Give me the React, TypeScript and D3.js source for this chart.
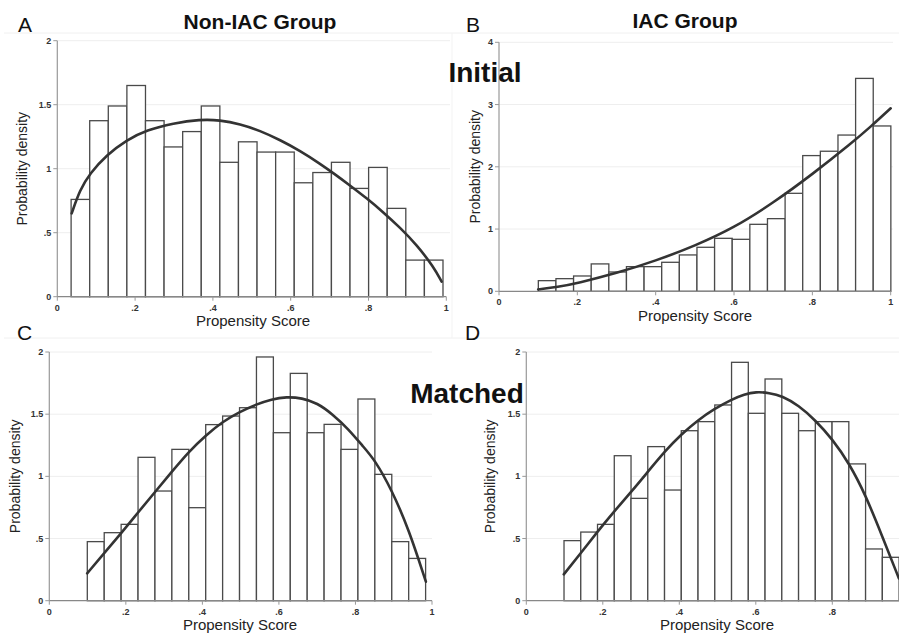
import React from 'react';
import * as d3 from 'd3';

// histogram bars (probability density), 20 bins each
const nonIacInitial = [0.76, 1.375, 1.49, 1.65, 1.375, 1.17, 1.29, 1.49, 1.05, 1.21, 1.13, 1.13, 0.89, 0.97, 1.05, 0.846, 1.01, 0.69, 0.286, 0.286];
const iacInitial = [0.171, 0.203, 0.246, 0.44, 0.31, 0.396, 0.396, 0.466, 0.584, 0.707, 0.851, 0.835, 1.076, 1.167, 1.574, 2.18, 2.25, 2.51, 3.42, 2.656];
const nonIacMatched = [0.475, 0.547, 0.614, 1.153, 0.882, 1.217, 0.748, 1.416, 1.485, 1.552, 1.96, 1.351, 1.828, 1.351, 1.418, 1.217, 1.622, 1.016, 0.475, 0.34];
const iacMatched = [0.483, 0.552, 0.614, 1.166, 0.823, 1.239, 0.89, 1.367, 1.44, 1.574, 1.917, 1.507, 1.783, 1.507, 1.367, 1.44, 1.44, 1.1, 0.416, 0.349];

// bin start and bin width for each panel
const binsA = { start: 0.0355, width: 0.0478 };
const binsB = { start: 0.1004, width: 0.045 };
const binsC = { start: 0.0993, width: 0.0442 };
const binsD = { start: 0.0986, width: 0.0438 };

// fitted density curves
const curveA: [number, number][] = [[0.037, 0.651], [0.058, 0.834], [0.084, 0.964], [0.127, 1.107], [0.178, 1.224], [0.23, 1.302], [0.298, 1.355], [0.367, 1.385], [0.418, 1.38], [0.47, 1.349], [0.521, 1.297], [0.573, 1.224], [0.624, 1.14], [0.675, 1.04], [0.71, 0.965], [0.752, 0.87], [0.795, 0.77], [0.838, 0.66], [0.881, 0.54], [0.924, 0.405], [0.967, 0.234], [0.988, 0.117]];
const curveB: [number, number][] = [[0.1, 0.03], [0.15, 0.07], [0.2, 0.13], [0.3, 0.29], [0.4, 0.49], [0.5, 0.73], [0.6, 1.02], [0.7, 1.42], [0.8, 1.88], [0.9, 2.38], [0.95, 2.65], [1.0, 2.94]];
const curveC: [number, number][] = [[0.099, 0.22], [0.143, 0.38], [0.187, 0.54], [0.232, 0.71], [0.277, 0.877], [0.321, 1.04], [0.365, 1.2], [0.409, 1.33], [0.453, 1.44], [0.498, 1.52], [0.542, 1.58], [0.58, 1.62], [0.62, 1.64], [0.66, 1.63], [0.7, 1.59], [0.74, 1.5], [0.78, 1.385], [0.82, 1.24], [0.851, 1.13], [0.895, 0.89], [0.94, 0.568], [0.984, 0.153]];
const curveD: [number, number][] = [[0.098, 0.212], [0.142, 0.38], [0.186, 0.555], [0.23, 0.72], [0.275, 0.877], [0.32, 1.045], [0.363, 1.204], [0.406, 1.34], [0.449, 1.453], [0.493, 1.545], [0.537, 1.619], [0.57, 1.66], [0.6, 1.68], [0.635, 1.672], [0.669, 1.646], [0.712, 1.57], [0.755, 1.453], [0.8, 1.3], [0.844, 1.105], [0.887, 0.85], [0.931, 0.515], [0.974, 0.18]];

const xTicks = [0, 0.2, 0.4, 0.6, 0.8, 1];
const yTicksSmall = [0, 0.5, 1, 1.5, 2];
const yTicksBig = [0, 1, 2, 3, 4];

const FONT = '"Liberation Sans", Arial, Helvetica, sans-serif';
const WIDTH = 899;
const HEIGHT = 634;
const fmt = (d: number) => String(d).replace(/^0\./, '.');

type PanelProps = {
  x0: number; x1: number; y0: number; y1: number; // pixel box of the data area
  gridRight: number;
  yMax: number; yTicks: number[];
  values: number[]; bins: { start: number; width: number };
  curve: [number, number][];
  yLabelX: number; xLabelX: number; xLabelY: number;
};

const Panel = ({ x0, x1, y0, y1, gridRight, yMax, yTicks, values, bins, curve, yLabelX, xLabelX, xLabelY }: PanelProps) => {
  const x = d3.scaleLinear().domain([0, 1]).range([x0, x1]);
  const y = d3.scaleLinear().domain([0, yMax]).range([y0, y1]);
  const line = d3.line<[number, number]>()
    .x(d => x(d[0]))
    .y(d => y(d[1]))
    .curve(d3.curveBasis);
  const midY = (y0 + y1) / 2;
  // the right edge of panel D runs off the page, drop ticks that would be cut
  const visibleTicks = xTicks.filter(t => x(t) < WIDTH - 4);

  return (
    <g>
      {/* faint grid */}
      {yTicks.slice(1).map(t => (
        <line key={'g' + t} x1={x0} x2={gridRight} y1={y(t)} y2={y(t)} stroke="#eeeeee" strokeWidth={1} />
      ))}
      {/* bars */}
      {values.map((v, i) => {
        const a = bins.start + i * bins.width;
        return (
          <rect key={i} x={x(a)} y={y(v)} width={x(a + bins.width) - x(a)} height={y(0) - y(v)}
            fill="#ffffff" stroke="#4a4a4a" strokeWidth={1.3} />
        );
      })}
      {/* y axis */}
      <line x1={x0} x2={x0} y1={y(0)} y2={y(yMax)} stroke="#999" strokeWidth={1.2} />
      {yTicks.map(t => (
        <g key={'y' + t}>
          <line x1={x0 - 4} x2={x0} y1={y(t)} y2={y(t)} stroke="#999" strokeWidth={1} />
          <text x={x0 - 6} y={y(t) + 3} textAnchor="end" fontSize={9} fontWeight="bold" fill="#333" fontFamily={FONT}>{fmt(t)}</text>
        </g>
      ))}
      {/* x axis */}
      <line x1={x(0)} x2={x(1)} y1={y0} y2={y0} stroke="#888" strokeWidth={1.2} />
      {visibleTicks.map(t => (
        <g key={'x' + t}>
          <line x1={x(t)} x2={x(t)} y1={y0} y2={y0 + 4} stroke="#999" strokeWidth={1} />
          <text x={x(t)} y={y0 + 14} textAnchor="middle" fontSize={9} fontWeight="bold" fill="#333" fontFamily={FONT}>{fmt(t)}</text>
        </g>
      ))}
      {/* fitted curve */}
      <path d={line(curve) || ''} fill="none" stroke="#333" strokeWidth={2.6} strokeLinecap="round" />
      {/* axis titles */}
      <text transform={`translate(${yLabelX},${midY}) rotate(-90)`} textAnchor="middle" fontSize={14} fill="#222" fontFamily={FONT}>Probability density</text>
      <text x={xLabelX} y={xLabelY} textAnchor="middle" fontSize={15} fill="#222" fontFamily={FONT}>Propensity Score</text>
    </g>
  );
};

export default function App() {
  return (
    <svg width={WIDTH} height={HEIGHT} style={{ position: 'absolute', left: 0, top: 0, background: '#fff' }}>
      <rect width={WIDTH} height={HEIGHT} fill="#fff" />
      {/* faint panel borders */}
      <line x1={4} x2={WIDTH} y1={33} y2={33} stroke="#f0f0f0" />
      <line x1={4} x2={WIDTH} y1={338} y2={338} stroke="#f0f0f0" />
      <line x1={452} x2={452} y1={33} y2={338} stroke="#f3f3f3" />

      <Panel x0={57.3} x1={446.3} y0={296.7} y1={40.7} gridRight={450} yMax={2} yTicks={yTicksSmall}
        values={nonIacInitial} bins={binsA} curve={curveA} yLabelX={27} xLabelX={253} xLabelY={326} />
      <Panel x0={499} x1={890.7} y0={291.3} y1={42.3} gridRight={893} yMax={4} yTicks={yTicksBig}
        values={iacInitial} bins={binsB} curve={curveB} yLabelX={480} xLabelX={695} xLabelY={321} />
      <Panel x0={49.3} x1={432} y0={600.7} y1={352} gridRight={432} yMax={2} yTicks={yTicksSmall}
        values={nonIacMatched} bins={binsC} curve={curveC} yLabelX={20} xLabelX={240} xLabelY={630} />
      <Panel x0={526.3} x1={908.8} y0={600.7} y1={352} gridRight={WIDTH} yMax={2} yTicks={yTicksSmall}
        values={iacMatched} bins={binsD} curve={curveD} yLabelX={495} xLabelX={717} xLabelY={630} />

      {/* panel letters and titles */}
      <text x={18} y={32} fontSize={21} fontFamily={FONT} fill="#111">A</text>
      <text x={466} y={32} fontSize={21} fontFamily={FONT} fill="#111">B</text>
      <text x={17} y={340} fontSize={21} fontFamily={FONT} fill="#111">C</text>
      <text x={465} y={340} fontSize={21} fontFamily={FONT} fill="#111">D</text>
      <text x={260} y={29} textAnchor="middle" fontSize={21} fontWeight="bold" fontFamily={FONT} fill="#111">Non-IAC Group</text>
      <text x={685} y={28} textAnchor="middle" fontSize={21} fontWeight="bold" fontFamily={FONT} fill="#111">IAC Group</text>
      <text x={485} y={82} textAnchor="middle" fontSize={28} fontWeight="bold" fontFamily={FONT} fill="#111">Initial</text>
      <text x={467} y={403} textAnchor="middle" fontSize={28} fontWeight="bold" fontFamily={FONT} fill="#111">Matched</text>
    </svg>
  );
}
